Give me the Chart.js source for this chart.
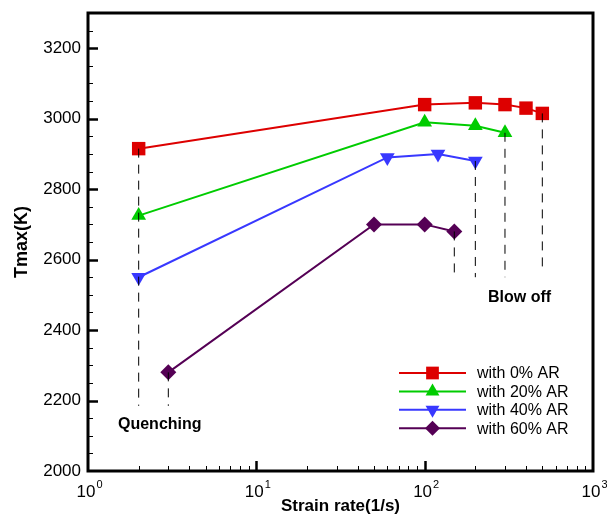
<!DOCTYPE html>
<html lang="en">
<head>
<meta charset="UTF-8">
<title>Tmax vs strain rate</title>
<script src="https://cdn.jsdelivr.net/npm/chart.js"></script>
<style>
  html, body { margin: 0; padding: 0; background: #fff; }
  #wrap { width: 607px; height: 515px; }
</style>
</head>
<body>
<div id="wrap"><canvas id="tmax"></canvas></div>
<script>
// data
const rate0 = [2, 100, 200, 300, 400, 500];
const tmax0 = [2915, 3040, 3045, 3040, 3030, 3015];
const rate20 = [2, 100, 200, 300];
const tmax20 = [2725, 2990, 2980, 2960];
const rate40 = [2, 60, 120, 200];
const tmax40 = [2550, 2890, 2900, 2880];
const rate60 = [3, 50, 100, 150];
const tmax60 = [2280, 2700, 2700, 2680];

// dashed guide lines (quenching / blow off limits)
const quenchRates = [2, 3];
const quenchTop = [2915, 2280];
const quenchBottom = 2185;
const blowRates = [150, 200, 300, 500];
const blowTop = [2680, 2880, 2960, 3015];
const blowBottom = [2560, 2550, 2550, 2575];

const yTicks = [2000, 2200, 2400, 2600, 2800, 3000, 3200];
const xDecades = [0, 1, 2, 3];
const labels = ['with 0% AR', 'with 20% AR', 'with 40% AR', 'with 60% AR'];

const colors = ['#dd0000', '#00cc00', '#3838ff', '#550055'];
const styles = ['rect', 'triangle', 'triangle', 'rectRot'];
const radii = [9.5, 8.5, 8.5, 8];
const rotations = [0, 0, 180, 0];

const FONT = '"Liberation Sans", Arial, sans-serif';
const pts = (xs, ys) => xs.map((x, i) => ({ x: x, y: ys[i] }));

const datasets = [];
// guide lines first so markers sit on top
quenchRates.forEach((r, i) => {
    datasets.push({ data: [{ x: r, y: quenchTop[i] }, { x: r, y: quenchBottom }] });
});
blowRates.forEach((r, i) => {
    datasets.push({ data: [{ x: r, y: blowTop[i] }, { x: r, y: blowBottom[i] }] });
});
datasets.forEach(d => {
    Object.assign(d, { borderColor: '#000', borderWidth: 1, borderDash: [9, 7], pointRadius: 0 });
});

[[rate0, tmax0], [rate20, tmax20], [rate40, tmax40], [rate60, tmax60]].forEach((s, i) => {
    datasets.push({
        label: labels[i],
        data: pts(s[0], s[1]),
        borderColor: colors[i],
        backgroundColor: colors[i],
        borderWidth: 2,
        pointStyle: styles[i],
        pointRadius: radii[i],
        pointRotation: rotations[i],
        pointBorderWidth: 0,
        pointBackgroundColor: colors[i]
    });
});

// axes, ticks, labels and legend drawn by hand (inward ticks, 10^n labels)
const frame = {
    id: 'frame',
    afterDraw(chart) {
        const ctx = chart.ctx;
        const x = chart.scales.x, y = chart.scales.y;
        const a = chart.chartArea;
        ctx.save();
        ctx.strokeStyle = '#000';
        ctx.lineWidth = 3;
        ctx.strokeRect(a.left, a.top, a.right - a.left, a.bottom - a.top);

        // y ticks every 50, major every 200
        for (let v = 2050; v < 3300; v += 50) {
            const py = Math.round(y.getPixelForValue(v)) + 0.5;
            const len = v % 200 === 0 ? 10 : 5;
            ctx.lineWidth = v % 200 === 0 ? 2.5 : 1;
            ctx.beginPath();
            ctx.moveTo(a.left, py);
            ctx.lineTo(a.left + len, py);
            ctx.stroke();
        }
        // x ticks, minor 2..9 per decade
        for (let d = 0; d < 3; d++) {
            for (let m = 1; m <= 9; m++) {
                const v = m * Math.pow(10, d);
                if (v === 1) continue;
                const px = Math.round(x.getPixelForValue(v)) + 0.5;
                const len = m === 1 ? 10 : 5;
                ctx.lineWidth = m === 1 ? 2.5 : 1;
                ctx.beginPath();
                ctx.moveTo(px, a.bottom);
                ctx.lineTo(px, a.bottom - len);
                ctx.stroke();
            }
        }

        ctx.fillStyle = '#000';
        ctx.font = '17px ' + FONT;
        ctx.textAlign = 'right';
        ctx.textBaseline = 'middle';
        yTicks.forEach(v => ctx.fillText(String(v), a.left - 7, y.getPixelForValue(v)));

        xDecades.forEach(d => {
            const px = x.getPixelForValue(Math.pow(10, d));
            ctx.font = '17px ' + FONT;
            ctx.textBaseline = 'alphabetic';
            const w = ctx.measureText('10').width;
            ctx.font = '11px ' + FONT;
            const ws = ctx.measureText(String(d)).width;
            const x0 = px - (w + ws) / 2 + 1;
            ctx.textAlign = 'left';
            ctx.font = '17px ' + FONT;
            ctx.fillText('10', x0, a.bottom + 26);
            ctx.font = '11px ' + FONT;
            ctx.fillText(String(d), x0 + w + 1, a.bottom + 17);
        });

        ctx.font = 'bold 17px ' + FONT;
        ctx.textAlign = 'center';
        ctx.textBaseline = 'alphabetic';
        ctx.fillText('Strain rate(1/s)', (a.left + a.right) / 2, 511);
        ctx.save();
        ctx.translate(27, (a.top + a.bottom) / 2);
        ctx.rotate(-Math.PI / 2);
        ctx.font = 'bold 18px ' + FONT;
        ctx.fillText('Tmax(K)', 0, 0);
        ctx.restore();

        ctx.font = 'bold 16px ' + FONT;
        ctx.textAlign = 'left';
        ctx.fillText('Quenching', 118, 429);
        ctx.fillText('Blow off', 488, 302);

        // legend
        const lx0 = 399, lx1 = 466, ly0 = 373, dy = 18.4;
        labels.forEach((t, i) => {
            const ly = ly0 + i * dy;
            ctx.strokeStyle = colors[i];
            ctx.lineWidth = 2;
            ctx.beginPath();
            ctx.moveTo(lx0, ly);
            ctx.lineTo(lx1, ly);
            ctx.stroke();
            ctx.fillStyle = colors[i];
            Chart.helpers.drawPoint(ctx, {
                pointStyle: styles[i], rotation: rotations[i], radius: radii[i] - 0.5, borderWidth: 0
            }, (lx0 + lx1) / 2, ly);
            ctx.fillStyle = '#000';
            ctx.font = '16px ' + FONT;
            ctx.textBaseline = 'middle';
            ctx.fillText(t, 477, ly + 1);
        });
        ctx.restore();
    }
};

new Chart(document.getElementById('tmax'), {
    type: 'line',
    data: { datasets: datasets },
    options: {
        responsive: true,
        maintainAspectRatio: false,
        animation: false,
        layout: { padding: { left: 88, right: 14, top: 13, bottom: 44 } },
        plugins: { legend: { display: false }, tooltip: { enabled: false } },
        scales: {
            x: { type: 'logarithmic', min: 1, max: 1000, display: false },
            y: { type: 'linear', min: 2000, max: 3300, display: false }
        }
    },
    plugins: [frame]
});
</script>
</body>
</html>
